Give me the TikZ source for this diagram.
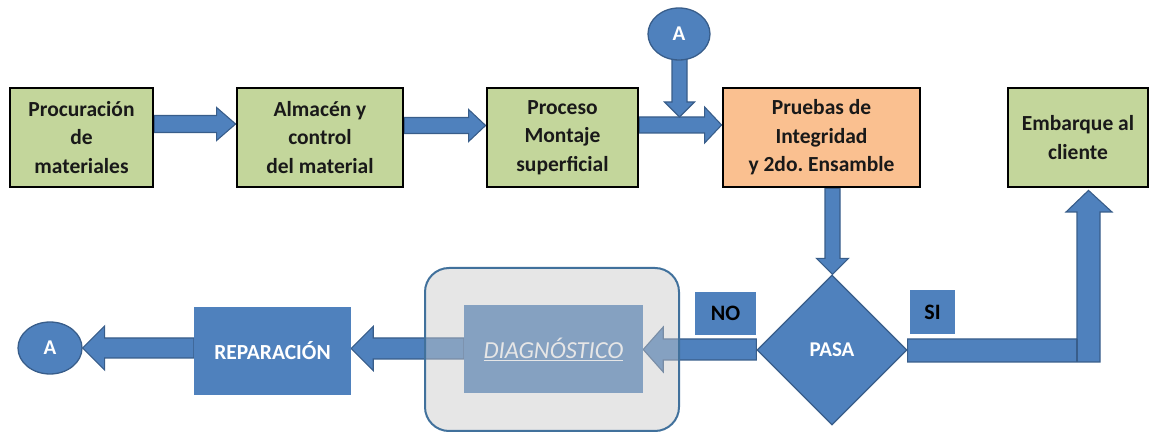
\documentclass[tikz,border=0pt]{standalone}
\usepackage{fontspec}
\setmainfont{Carlito}
\frenchspacing
\usetikzlibrary{shapes.geometric,calc}
\definecolor{boxgreen}{HTML}{C3D69B}
\definecolor{boxorange}{HTML}{FAC090}
\definecolor{bblue}{HTML}{4F81BD}
\definecolor{bdark}{HTML}{385D8A}
\definecolor{gline}{HTML}{41719C}
\definecolor{ggray}{RGB}{200,200,200}
\pgfdeclarelayer{bg}
\pgfsetlayers{bg,main}
\tikzset{
  procbox/.style={draw=black, line width=2.8pt, fill=boxgreen, inner sep=0pt, align=center,
    font=\fontsize{21.5}{28.5}\selectfont\bfseries, text=black!90},
  barrow/.style={fill=bblue, draw=bdark, line width=1.1pt, line join=miter},
  conn/.style={ellipse, fill=bblue, draw=bdark, line width=1.3pt, inner sep=0pt, text=white,
    font=\fontsize{21}{25}\selectfont\bfseries},
  tagbox/.style={fill=bblue, inner sep=0pt, font=\fontsize{22}{26}\selectfont\bfseries, text=black},
}
% right-pointing block arrow: from, to, y centre, half shaft, half head, head length
\newcommand\rblock[6]{\filldraw[barrow] let \p1=(#1),\p2=(#2) in
  (\x1,#3pt+#4pt) -- (\x2-#6pt,#3pt+#4pt) -- (\x2-#6pt,#3pt+#5pt) -- (\x2,#3pt)
  -- (\x2-#6pt,#3pt-#5pt) -- (\x2-#6pt,#3pt-#4pt) -- (\x1,#3pt-#4pt) -- cycle;}
% left-pointing block arrow
\newcommand\lblock[6]{\filldraw[barrow] let \p1=(#1),\p2=(#2) in
  (\x1,#3pt+#4pt) -- (\x2+#6pt,#3pt+#4pt) -- (\x2+#6pt,#3pt+#5pt) -- (\x2,#3pt)
  -- (\x2+#6pt,#3pt-#5pt) -- (\x2+#6pt,#3pt-#4pt) -- (\x1,#3pt-#4pt) -- cycle;}
% down-pointing block arrow: from, to, x centre, half shaft, half head, head length
\newcommand\dblock[6]{\filldraw[barrow] let \p1=(#1),\p2=(#2) in
  (#3pt-#4pt,\y1) -- (#3pt-#4pt,\y2+#6pt) -- (#3pt-#5pt,\y2+#6pt) -- (#3pt,\y2)
  -- (#3pt+#5pt,\y2+#6pt) -- (#3pt+#4pt,\y2+#6pt) -- (#3pt+#4pt,\y1) -- cycle;}
\begin{document}
\begin{tikzpicture}[x=1pt,y=1pt]
\useasboundingbox (0,0) rectangle (1150,433);

% top row
\node[procbox, minimum width=143pt, minimum height=99pt] (p1) at (81.5,295.5) {Procuración\\de\\materiales};
\node[procbox, minimum width=166pt, minimum height=99pt] (p2) at (320,295.5) {Almacén y\\control\\del material};
\node[procbox, minimum width=151pt, minimum height=99pt] (p3) at (562.5,295.5) {Proceso\\Montaje\\superficial};
\node[procbox, fill=boxorange, minimum width=197pt, minimum height=99pt] (p4) at (821.5,295.5) {Pruebas de\\Integridad\\y 2do. Ensamble};
\node[procbox, minimum width=140pt, minimum height=99pt] (p5) at (1078,295.5) {Embarque al\\cliente};

\node[conn, minimum width=62pt, minimum height=52pt] (atop) at (679,399) {A};
\coordinate (join) at (679.5,316);

% decision
\node[diamond, aspect=1, minimum width=150pt, minimum height=150pt, inner sep=0pt,
  fill=bblue, draw=bdark, line width=1.3pt, text=white,
  font=\fontsize{21}{25}\selectfont\bfseries] (pasa) at (832,83) {PASA};
\node[tagbox, minimum width=61pt, minimum height=43pt] (no) at (725.5,119.5) {NO};
\node[tagbox, minimum width=45pt, minimum height=44pt] (si) at (932.5,121) {SI};

% bottom row
\node[fill=bblue, minimum width=157pt, minimum height=88pt, inner sep=0pt, text=white,
  font=\fontsize{21.5}{25}\selectfont\bfseries] (rep) at (272.5,82) {REPARACIÓN};
\node[conn, minimum width=64pt, minimum height=52pt] (aleft) at (50,85) {A};
\node[fill=bblue, minimum width=179pt, minimum height=88pt, inner sep=0pt, text=white,
  font=\fontsize{24.5}{28}\selectfont\itshape] (diag) at (553.5,84) {\underline{DIAGNÓSTICO}};
\node[draw=gline, line width=2pt, rounded corners=24pt, fill=ggray, fill opacity=0.45,
  minimum width=254pt, minimum height=163pt, inner sep=0pt] (gbox) at (552,83.5) {};

\begin{pgfonlayer}{bg}
  \rblock{p1.east}{p2.west}{309}{8.5}{16.5}{19}
  \rblock{p2.east}{p3.west}{307.5}{8}{16}{17}
  \rblock{p3.east}{p4.west}{308}{8}{18}{17}
  \dblock{atop.center}{join}{679.5}{7.5}{15}{15}
  \dblock{p4.south}{pasa.north}{832.5}{7.5}{16}{16}
  \lblock{pasa.west}{diag.east}{83.5}{10.5}{22.5}{20}
  \lblock{diag.west}{rep.east}{84.5}{10.5}{22}{22}
  \lblock{rep.west}{aleft.east}{85}{10}{22}{22}
  \filldraw[barrow] let \p1=(pasa.east), \p2=(p5.south) in
    (\x1,94pt) -- (1077pt,94pt) -- (1077pt,221pt) -- (1066pt,221pt) -- (1088.5pt,\y2-2pt)
    -- (1112pt,221pt) -- (1100pt,221pt) -- (1100pt,71pt) -- (\x1,71pt) -- cycle;
  \draw[bdark, line width=1.1pt] (1077,94) -- (1077,71);
\end{pgfonlayer}
\end{tikzpicture}
\end{document}
